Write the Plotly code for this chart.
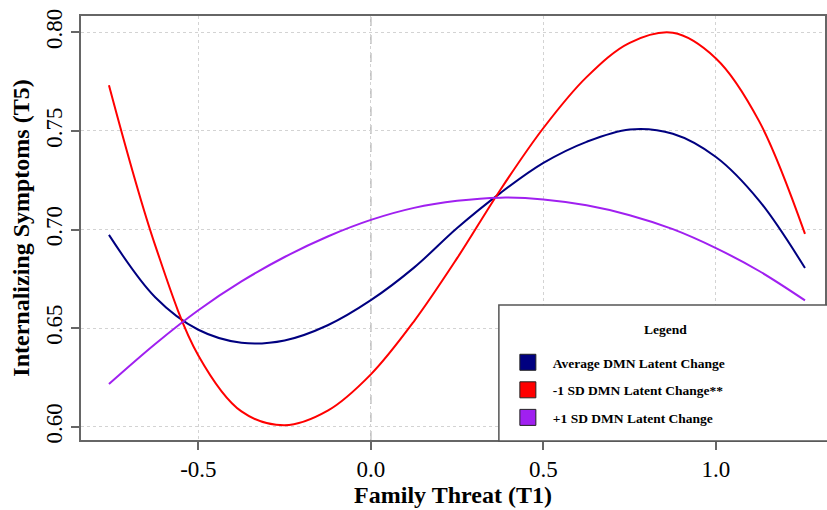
import plotly.graph_objects as go

# Family Threat (T1) positions where the three curves were read
family_threat = [-0.759, -0.625, -0.5, -0.375, -0.25, -0.125, 0.0, 0.125, 0.25,
                 0.375, 0.5, 0.625, 0.75, 0.875, 1.0, 1.125, 1.258]

avg_dmn = [0.6973, 0.6657, 0.6492, 0.6426, 0.6438, 0.6515, 0.6642, 0.6807, 0.7008,
           0.7185, 0.7338, 0.7445, 0.7508, 0.7486, 0.7368, 0.7147, 0.6805]
minus_sd = [0.7732, 0.6920, 0.6362, 0.6078, 0.6008, 0.6082, 0.6266, 0.6535, 0.6855,
            0.7201, 0.7515, 0.7773, 0.7947, 0.7998, 0.7868, 0.7550, 0.6978]
plus_sd = [0.6217, 0.6420, 0.6591, 0.6737, 0.6861, 0.6965, 0.7049, 0.7110, 0.7146,
           0.7162, 0.7153, 0.7123, 0.7073, 0.7002, 0.6906, 0.6790, 0.6641]

series_names = ["Average DMN Latent Change", "-1 SD DMN Latent Change**",
                "+1 SD DMN Latent Change"]
series_colors = ["#000080", "#FF0000", "#A020F0"]

x_ticks = [-0.5, 0.0, 0.5, 1.0]
x_tick_labels = ["-0.5", "0.0", "0.5", "1.0"]
y_ticks = [0.60, 0.65, 0.70, 0.75, 0.80]
y_tick_labels = ["0.60", "0.65", "0.70", "0.75", "0.80"]

SERIF = "Liberation Serif, Times New Roman, serif"

fig = go.Figure()
for name, ys, col in zip(series_names, [avg_dmn, minus_sd, plus_sd], series_colors):
    fig.add_trace(go.Scatter(x=family_threat, y=ys, mode="lines", name=name,
                             line=dict(color=col, width=2, shape="spline", smoothing=1.0),
                             showlegend=False, hoverinfo="skip"))
for i, (name, col) in enumerate(zip(series_names, series_colors)):
    fig.add_trace(go.Scatter(x=[None], y=[None], mode="markers", name=f"<b>{name}</b>",
                             legendgroup=f"g{i}",
                             marker=dict(symbol="square", size=16, color=col,
                                         line=dict(color="#222222", width=1))))

W, H = 827, 510
L, R, T, B = 81, 0, 16, 70
pw = W - L - R
ph = H - T - B

def px_x(p):
    return (p - L) / pw

def px_y(p):
    return (H - B - p) / ph

# legend box
fig.add_shape(type="rect", xref="paper", yref="paper",
              x0=px_x(500), x1=px_x(830), y0=px_y(441), y1=px_y(305),
              fillcolor="white", line=dict(color="#555555", width=1.5), layer="above")
# dashed vertical line at x=0
fig.add_shape(type="line", xref="x", yref="paper", x0=0, x1=0, y0=0, y1=1,
              line=dict(color="#BBBBBB", width=1.5, dash="dash"), layer="below")

fig.add_annotation(text="<b>Legend</b>", xref="paper", yref="paper",
                   x=px_x(667), y=px_y(329), xanchor="center", yanchor="middle",
                   showarrow=False,
                   font=dict(family=SERIF, size=13.5, color="black"))

fig.update_layout(
    width=W, height=H,
    margin=dict(l=L, r=R, t=T, b=B),
    paper_bgcolor="white", plot_bgcolor="white",
    font=dict(family=SERIF, color="black"),
    legend=dict(x=px_x(504), y=px_y(347), xanchor="left", yanchor="top",
                bgcolor="rgba(0,0,0,0)", borderwidth=0, tracegroupgap=7,
                itemwidth=40,
                font=dict(family=SERIF, size=13.5, color="black"),
                itemsizing="trace"),
    xaxis=dict(range=[-0.840, 1.316], tickvals=x_ticks, ticktext=x_tick_labels,
               showgrid=True, gridcolor="#D3D3D3", griddash="dot", gridwidth=1,
               zeroline=False, showline=True, mirror=True, linecolor="#666666",
               linewidth=1.5, ticks="outside", ticklen=8, tickcolor="#666666",
               tickwidth=1.5, tickfont=dict(family=SERIF, size=23),
               title=dict(text="<b>Family Threat (T1)</b>", standoff=4,
                          font=dict(family=SERIF, size=24))),
    yaxis=dict(range=[0.5933, 0.8083], tickvals=y_ticks, ticktext=y_tick_labels,
               tickangle=-90,
               showgrid=True, gridcolor="#D3D3D3", griddash="dot", gridwidth=1,
               zeroline=False, showline=True, mirror=True, linecolor="#666666",
               linewidth=1.5, ticks="outside", ticklen=8, tickcolor="#666666",
               tickwidth=1.5, tickfont=dict(family=SERIF, size=23),
               title=dict(text="<b>Internalizing Symptoms (T5)</b>", standoff=6,
                          font=dict(family=SERIF, size=24))),
)

fig.write_html("out.html")
